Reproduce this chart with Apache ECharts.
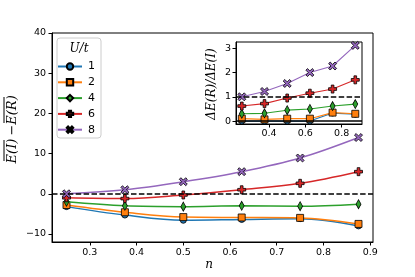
<!DOCTYPE html>
<html><head><meta charset="utf-8">
<script src="https://cdn.jsdelivr.net/npm/echarts@6/dist/echarts.min.js"></script>
<style>html,body{margin:0;padding:0;background:#fff}#c{width:415px;height:277px}</style>
</head><body><div id="c"></div>
<script>
// ---- data ----
const nVals = [0.25, 0.375, 0.5, 0.625, 0.75, 0.875];
const uLabels = ['1', '2', '4', '6', '8'];
const mainU1 = [-3.2, -5.3, -6.6, -6.4, -6.2, -8.0];
const mainU2 = [-2.8, -4.6, -5.8, -5.9, -6.0, -7.5];
const mainU4 = [-2.0, -3.0, -3.2, -3.0, -3.1, -2.6];
const mainU6 = [-1.0, -1.2, -0.3, 1.0, 2.6, 5.5];
const mainU8 = [0.0, 1.0, 3.0, 5.5, 8.9, 14.0];
const insetU1 = [0.0, 0.0, 0.0, 0.0, 0.33, 0.28];
const insetU2 = [0.1, 0.07, 0.1, 0.1, 0.35, 0.3];
const insetU4 = [0.3, 0.32, 0.45, 0.5, 0.62, 0.7];
const insetU6 = [0.62, 0.72, 0.95, 1.15, 1.32, 1.7];
const insetU8 = [1.0, 1.22, 1.55, 2.0, 2.27, 3.12];
const mainXTicks = [0.3, 0.4, 0.5, 0.6, 0.7, 0.8, 0.9];
const mainYTicks = [-10, 0, 10, 20, 30, 40];
const insetXTicks = [0.4, 0.6, 0.8];
const insetYTicks = [0, 1, 2, 3];

const colors = ['#1f77b4', '#ff7f0e', '#2ca02c', '#d62728', '#9467bd'];
const plusPath = 'path://M1,0H2V1H3V2H2V3H1V2H0V1H1Z';
const xPath = 'path://M0,2L2,0L5,3L8,0L10,2L7,5L10,8L8,10L5,7L2,10L0,8L3,5Z';
const symbols = ['circle', 'rect', 'diamond', plusPath, xPath];
const symSizes = [6, 7, [5, 9], 8, 8];
const mainData = [mainU1, mainU2, mainU4, mainU6, mainU8];
const insetData = [insetU1, insetU2, insetU4, insetU6, insetU8];

const pair = arr => nVals.map((x, i) => [x, arr[i]]);
const tickFont = {fontFamily: 'DejaVu Sans', fontSize: 9.5, color: '#000'};

const series = [];
uLabels.forEach((u, k) => {
  series.push({
    name: u, type: 'line', xAxisIndex: 0, yAxisIndex: 0,
    data: pair(mainData[k]), smooth: 0.35,
    symbol: symbols[k], symbolSize: symSizes[k], showAllSymbol: true,
    lineStyle: {color: colors[k], width: 1.5},
    itemStyle: {color: colors[k], borderColor: '#000', borderWidth: 0.8},
    emphasis: {disabled: true}, z: 3 + k,
    markLine: k === 0 ? {
      silent: true, symbol: 'none', label: {show: false},
      lineStyle: {color: '#000', type: [5.5, 2.4], width: 1.5},
      data: [{yAxis: 0}], z: 10
    } : undefined
  });
});
uLabels.forEach((u, k) => {
  series.push({
    name: u, type: 'line', xAxisIndex: 1, yAxisIndex: 1,
    data: pair(insetData[k]),
    symbol: symbols[k], symbolSize: symSizes[k], showAllSymbol: true,
    lineStyle: {color: colors[k], width: 1.1},
    itemStyle: {color: colors[k], borderColor: '#000', borderWidth: 0.8},
    emphasis: {disabled: true}, z: 13 + k,
    markLine: k === 0 ? {
      silent: true, symbol: 'none', label: {show: false},
      data: [
        {yAxis: 1, lineStyle: {color: '#000', type: [5.5, 2.4], width: 1.5}},
        {yAxis: 0, lineStyle: {color: '#000', type: 'solid', width: 1.5}}
      ], z: 20
    } : undefined
  });
});

const chart = echarts.init(document.getElementById('c'), null, {renderer: 'canvas'});
chart.setOption({
  animation: false,
  backgroundColor: '#fff',
  grid: [
    {left: 52, top: 33, right: 42, bottom: 35, show: true, borderColor: '#000', borderWidth: 1, backgroundColor: 'transparent'},
    {left: 236, top: 42, right: 53, bottom: 153, show: true, borderColor: '#000', borderWidth: 1, backgroundColor: '#fff', z: 10}
  ],
  xAxis: [
    {type: 'value', gridIndex: 0, min: 0.219, max: 0.906,
     axisLine: {show: true, onZero: false, lineStyle: {color: '#000'}},
     axisTick: {show: true, length: 3.5, customValues: mainXTicks, lineStyle: {color: '#000'}},
     axisLabel: {...tickFont, margin: 6, customValues: mainXTicks, formatter: v => v.toFixed(1)},
     splitLine: {show: false}},
    {type: 'value', gridIndex: 1, min: 0.218, max: 0.912, z: 12,
     axisLine: {show: true, onZero: false, lineStyle: {color: '#000'}},
     axisTick: {show: true, length: 3.5, customValues: insetXTicks, lineStyle: {color: '#000'}},
     axisLabel: {...tickFont, margin: 5, customValues: insetXTicks, formatter: v => v.toFixed(1)},
     splitLine: {show: false}}
  ],
  yAxis: [
    {type: 'value', gridIndex: 0, min: -12, max: 40,
     axisLine: {show: true, onZero: false, lineStyle: {color: '#000'}},
     axisTick: {show: true, length: 3.5, customValues: mainYTicks, lineStyle: {color: '#000'}},
     axisLabel: {...tickFont, margin: 6, customValues: mainYTicks, formatter: v => v < 0 ? '\u2212' + Math.abs(v) : String(v)},
     splitLine: {show: false}},
    {type: 'value', gridIndex: 1, min: -0.12, max: 3.26, z: 12,
     axisLine: {show: true, onZero: false, lineStyle: {color: '#000'}},
     axisTick: {show: true, length: 3.5, customValues: insetYTicks, lineStyle: {color: '#000'}},
     axisLabel: {...tickFont, margin: 5, customValues: insetYTicks, formatter: v => String(v)},
     splitLine: {show: false}}
  ],
  legend: {
    data: uLabels, orient: 'vertical', left: 57, top: 61, padding: 0,
    itemWidth: 24, itemHeight: 8, itemGap: 4.8,
    textStyle: {fontFamily: 'DejaVu Sans', fontSize: 11, color: '#000', padding: [0, 0, 0, 1]},
    selectedMode: false, z: 30
  },
  graphic: [
    {type: 'rect', shape: {x: 57, y: 38, width: 44, height: 100, r: 3}, z: 25,
     style: {fill: 'rgba(255,255,255,0.8)', stroke: '#cccccc', lineWidth: 1}},
    {type: 'text', x: 79, y: 49, z: 26,
     style: {text: 'U/t', font: 'italic 12px "DejaVu Serif"', fill: '#000', textAlign: 'center', textVerticalAlign: 'middle'}},
    {type: 'text', x: 209, y: 265,
     style: {text: 'n', font: 'italic 12px "DejaVu Serif"', fill: '#000', textAlign: 'center', textVerticalAlign: 'middle'}},
    {type: 'group', x: 13, y: 130, rotation: Math.PI / 2, children: [
      {type: 'text', x: -21, y: 0, style: {text: 'E(I)', font: 'italic 13px "DejaVu Serif"', fill: '#000', textAlign: 'center', textVerticalAlign: 'middle'}},
      {type: 'text', x: 0, y: 0, style: {text: '\u2212', font: '13px "DejaVu Serif"', fill: '#000', textAlign: 'center', textVerticalAlign: 'middle'}},
      {type: 'text', x: 20, y: 0, style: {text: 'E(R)', font: 'italic 13px "DejaVu Serif"', fill: '#000', textAlign: 'center', textVerticalAlign: 'middle'}},
      {type: 'line', shape: {x1: -31, y1: -9, x2: -10, y2: -9}, style: {stroke: '#000', lineWidth: 1}},
      {type: 'line', shape: {x1: 7, y1: -9, x2: 33, y2: -9}, style: {stroke: '#000', lineWidth: 1}}
    ]},
    {type: 'text', x: 212, y: 84, rotation: Math.PI / 2,
     style: {text: '\u0394E(R)/\u0394E(I)', font: 'italic 12px "DejaVu Serif"', fill: '#000', textAlign: 'center', textVerticalAlign: 'middle'}}
  ],
  series: series
});
</script></body></html>
